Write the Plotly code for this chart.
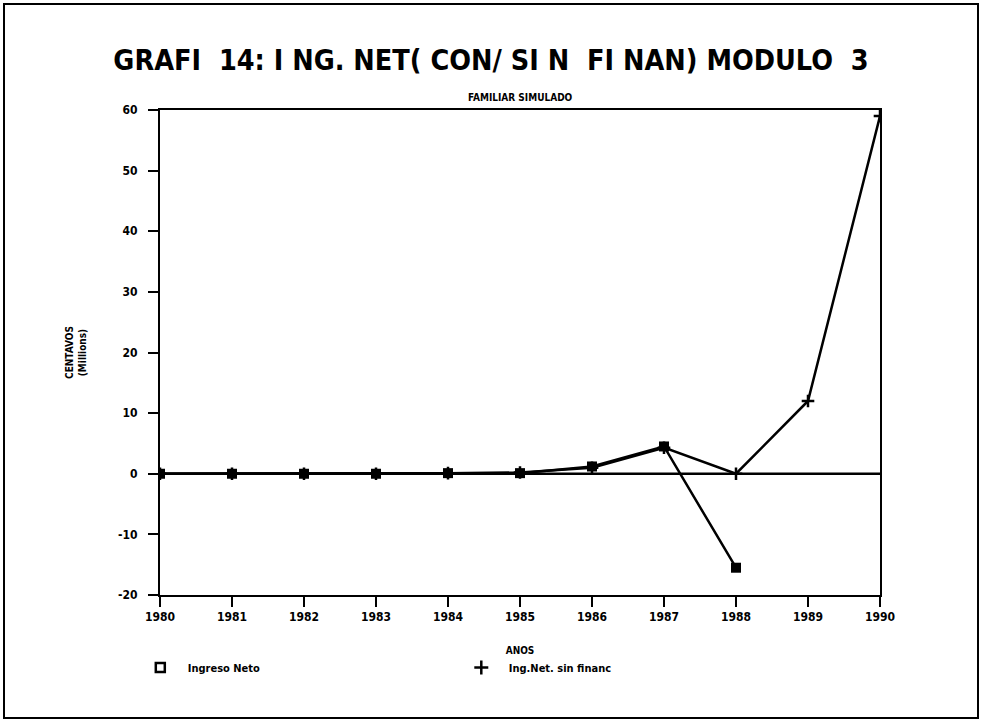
import plotly.graph_objects as go

years = [1980, 1981, 1982, 1983, 1984, 1985, 1986, 1987, 1988, 1989, 1990]
tick_labels = ["1980", "1981", "1982", "1983", "1984", "1985", "1986", "1987", "1988", "1989", "1990"]
ingreso_neto = [0.0, 0.0, 0.0, 0.0, 0.1, 0.1, 1.2, 4.5, -15.5, None, None]
ing_sin_financ = [0.0, 0.0, 0.0, 0.0, 0.1, 0.2, 1.0, 4.3, 0.0, 12.0, 59.0]
y_ticks = [-20, -10, 0, 10, 20, 30, 40, 50, 60]

FONT = "DejaVu Sans Condensed"
fig = go.Figure()

fig.add_trace(go.Scatter(x=years, y=ingreso_neto, mode="lines+markers",
                         line=dict(color="black", width=2.5),
                         marker=dict(symbol="square", size=10, color="black"),
                         showlegend=False))
fig.add_trace(go.Scatter(x=years, y=ing_sin_financ, mode="lines+markers",
                         line=dict(color="black", width=2.5),
                         marker=dict(symbol="cross-thin", size=9, line=dict(color="black", width=2.5)),
                         showlegend=False))
# legend entries
fig.add_trace(go.Scatter(x=[None], y=[None], mode="markers", name="<b>Ingreso Neto</b>",
                         marker=dict(symbol="square-open", size=9, color="black", line=dict(width=2.5))))
fig.add_trace(go.Scatter(x=[None], y=[None], mode="markers", name="<b>Ing.Net. sin financ</b>",
                         marker=dict(symbol="cross-thin", size=10, line=dict(color="black", width=2.5))))

fig.add_hline(y=0, line=dict(color="black", width=2.5))

# outer border
fig.add_shape(type="rect", xref="paper", yref="paper",
              x0=(4 - 160) / 720, x1=(978 - 160) / 720,
              y0=(595 - 718) / 485, y1=(595 - 4) / 485,
              line=dict(color="black", width=2), layer="below")

fig.update_layout(
    width=982, height=722,
    margin=dict(l=160, r=102, t=110, b=127),
    paper_bgcolor="white", plot_bgcolor="white",
    font=dict(family=FONT, color="black"),
    title=dict(text="<b>GRAFI  14: I NG. NET( CON/ SI N  FI NAN) MODULO  3</b>",
               x=0.5, xanchor="center", y=1 - 60 / 722, yanchor="middle",
               font=dict(size=28.5, family=FONT)),
    legend=dict(orientation="h", x=-0.035 - 2 / 720, y=(595 - 653) / 485, xanchor="left", yanchor="top",
                entrywidth=261, entrywidthmode="pixels",
                font=dict(size=11, family=FONT), itemwidth=45),
    showlegend=True,
)

fig.add_annotation(text="<b>FAMILIAR SIMULADO</b>", xref="paper", yref="paper",
                   x=0.5, y=(595 - 97) / 485, yanchor="middle", showarrow=False,
                   font=dict(size=10, family=FONT))

fig.update_xaxes(range=[1980, 1990], tickvals=years, ticktext=["<b>%s</b>" % t for t in tick_labels],
                 ticks="outside", ticklen=10, tickwidth=2, tickcolor="black",
                 showline=True, linecolor="black", linewidth=2, mirror=True,
                 showgrid=False, zeroline=False,
                 tickfont=dict(size=12, family=FONT),
                 title=dict(text="<b>ANOS</b>", font=dict(size=10, family=FONT), standoff=24))
fig.update_yaxes(range=[-20, 60], tickvals=y_ticks, ticktext=["<b>%d</b>" % v for v in y_ticks],
                 ticks="outside", ticklen=10, tickwidth=2, tickcolor="black",
                 showline=True, linecolor="black", linewidth=2, mirror=True,
                 showgrid=False, zeroline=False, ticklabelstandoff=8,
                 tickfont=dict(size=12, family=FONT),
                 title=dict(text="<b>CENTAVOS<br>(Millions)</b>", font=dict(size=10, family=FONT), standoff=30))

fig.write_html("out.html", config={"displayModeBar": False},
               post_script="document.body.style.margin='0';")
